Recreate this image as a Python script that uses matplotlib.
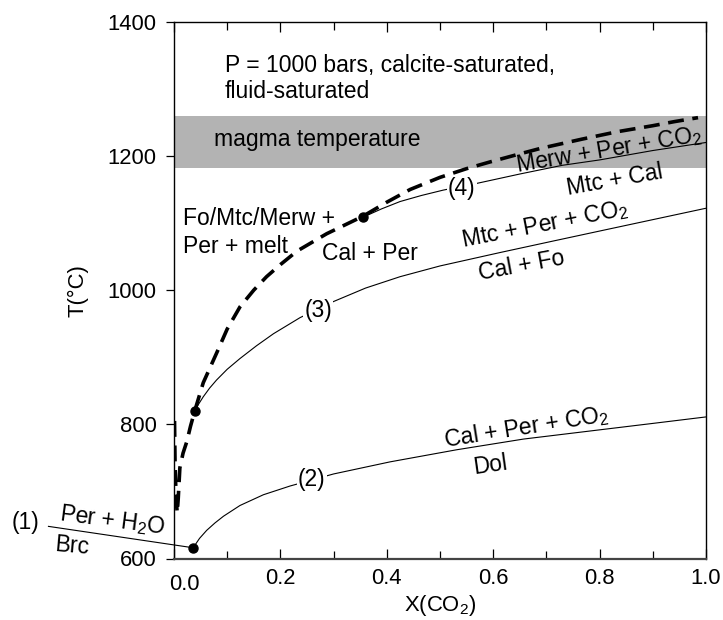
import matplotlib
matplotlib.use("Agg")
import matplotlib.pyplot as plt

plt.rcParams['font.family'] = ['Liberation Sans', 'DejaVu Sans']
plt.rcParams['mathtext.fontset'] = 'custom'
plt.rcParams['mathtext.rm'] = 'Liberation Sans'
plt.rcParams['mathtext.it'] = 'Liberation Sans:italic'

# ---------------- data ----------------
# reaction (1): Brc = Per + H2O (extends left of the axes)
x_r1 = [-0.237, 0.036]
t_r1 = [648, 616]

# reaction (2): Dol = Cal + Per + CO2
x_r2 = [0.036, 0.048, 0.0615, 0.077, 0.093, 0.124, 0.168, 0.218, 0.259, 0.30,
        0.406, 0.531, 0.657, 0.782, 0.907, 1.0]
t_r2 = [616, 630, 642, 653, 663, 679, 695, 708, 717, 726,
        744, 762, 778, 790, 802, 811]

# reaction (3): Cal + Fo = Mtc + Per + CO2
x_r3 = [0.039, 0.047, 0.055, 0.067, 0.08, 0.1, 0.124, 0.155, 0.187, 0.237,
        0.30, 0.36, 0.425, 0.5, 0.613, 0.712, 0.8, 0.9, 1.0]
t_r3 = [820, 831, 841, 854, 866, 882, 898, 917, 935, 959,
        983, 1003, 1020, 1036, 1056, 1073, 1088, 1105, 1122]

# reaction (4): Mtc + Cal = Merw + Per + CO2
x_r4 = [0.355, 0.39, 0.425, 0.465, 0.506, 0.569, 0.65, 0.73, 0.8, 0.9, 1.0]
t_r4 = [1108.5, 1121, 1132, 1141, 1149, 1159, 1173, 1186, 1194, 1208, 1220]

# melting curve (dashed)
x_melt = [0.001, 0.002, 0.004, 0.006, 0.008, 0.011, 0.017, 0.024, 0.031, 0.039,
          0.055, 0.08, 0.1, 0.124, 0.15, 0.174, 0.2, 0.231, 0.287, 0.355,
          0.40, 0.444, 0.5, 0.55, 0.594, 0.65, 0.688, 0.767, 0.833, 0.9,
          0.94, 0.985]
t_melt = [805, 740, 690, 668, 690, 735, 757, 774, 797, 820,
          862, 906, 942, 975, 1000, 1020, 1038, 1058, 1084, 1110,
          1131, 1150, 1168, 1181, 1191, 1203, 1211, 1225, 1236, 1245,
          1251, 1257]

# invariant points
x_pts = [0.036, 0.039, 0.355]
t_pts = [616, 820, 1108.5]

# magma temperature band
band_T = [1182, 1260]

x_ticks = [0.0, 0.2, 0.4, 0.6, 0.8, 1.0]
x_ticklabels = ['', '0.2', '0.4', '0.6', '0.8', '1.0']
y_ticks = [600, 800, 1000, 1200, 1400]

# ---------------- figure ----------------
W, H = 723, 620
fig = plt.figure(figsize=(W / 100, H / 100), dpi=100)
ax = fig.add_axes([174 / W, 1 - 558.5 / H, 532 / W, 536.8 / H])
ax.set_xlim(0, 1)
ax.set_ylim(600, 1400)

FS_T = 15.8
FS_A = 16.5

ax.axhspan(band_T[0], band_T[1], color='#b3b3b3', lw=0, zorder=0)

thin = dict(color='black', lw=0.8, solid_capstyle='butt')
ax.plot(x_r1, t_r1, clip_on=False, **thin)
ax.plot(x_r2, t_r2, **thin)
ax.plot(x_r3, t_r3, **thin)
ax.plot(x_r4, t_r4, **thin)
ax.plot(x_melt, t_melt, color='black', lw=2.6, dashes=(4.4, 2.4),
        dash_capstyle='butt', zorder=4)
ax.plot(x_pts, t_pts, 'o', color='black', ms=6.5, zorder=5, clip_on=False)

# axes styling
for s in ['left', 'right', 'top']:
    ax.spines[s].set_linewidth(1.0)
ax.spines['bottom'].set_linewidth(1.6)
ax.spines['bottom'].set_color('#444444')

ax.set_xticks(x_ticks)
ax.set_xticklabels(x_ticklabels)
ax.set_xticks([0.1, 0.3, 0.5, 0.7, 0.9], minor=True)
ax.set_yticks(y_ticks)
ax.tick_params(axis='x', which='both', direction='in', top=True, bottom=True,
               labelsize=FS_T, pad=7)
ax.tick_params(axis='x', which='major', length=7.5, width=0.9)
ax.tick_params(axis='x', which='minor', length=5.5, width=0.9)
ax.tick_params(axis='y', which='major', direction='out', length=6, width=0.9,
               labelsize=FS_T, pad=6.5)
ax.text(0.019, -0.0285, '0.0', transform=ax.get_xaxis_transform(),
        ha='center', va='top', fontsize=FS_T)

ax.set_xlabel('X(CO$_2$)', fontsize=FS_T, labelpad=2.5)
ax.set_ylabel('T(°C)', fontsize=FS_T, labelpad=14)

# annotations
def lbl(x, y, s, rot=0, ha='center', va='center', bg=False, fs=FS_A, **kw):
    t = ax.text(x, y, s, rotation=rot, ha=ha, va=va, fontsize=fs,
                rotation_mode='anchor', clip_on=False, zorder=6, **kw)
    if bg:
        t.set_bbox(dict(facecolor='white', edgecolor='none', pad=1.0))
    return t

lbl(0.096, 1352, 'P = 1000 bars, calcite-saturated,\nfluid-saturated',
    ha='left', va='top', linespacing=1.15)
lbl(0.269, 1225, 'magma temperature')
lbl(0.017, 1086, 'Fo/Mtc/Merw +\nPer + melt', ha='left', linespacing=1.25)
lbl(0.368, 1055, 'Cal + Per')
lbl(0.541, 1152, '(4)', bg=True)
lbl(0.271, 970, '(3)', bg=True)
lbl(0.259, 717, '(2)', bg=True)
lbl(0.818, 1208, 'Merw + Per + CO$_2$', rot=9.5)
lbl(0.829, 1164, 'Mtc + Cal', rot=10)
lbl(0.697, 1097, 'Mtc + Per + CO$_2$', rot=11)
lbl(0.654, 1037, 'Cal + Fo', rot=10.5)
lbl(0.663, 795, 'Cal + Per + CO$_2$', rot=9)
lbl(0.594, 739, 'Dol', rot=8)
lbl(-0.280, 653, '(1)')
lbl(-0.116, 656, 'Per + H$_2$O', rot=-7.5)
lbl(-0.192, 618, 'Brc', rot=-5)

fig.savefig('out.png', dpi=100)
